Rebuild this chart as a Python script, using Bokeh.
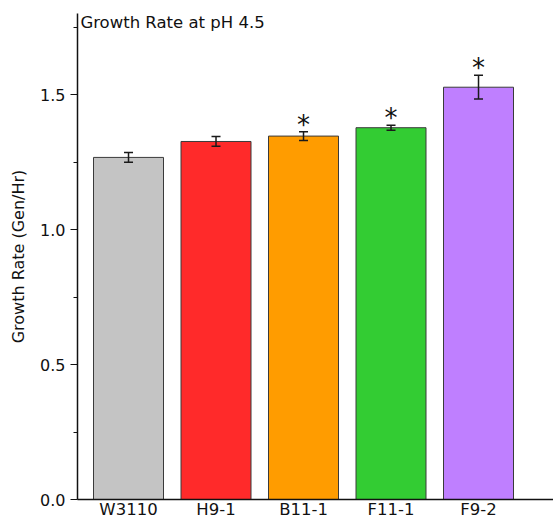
from bokeh.plotting import figure
from bokeh.models import ColumnDataSource, Whisker, TeeHead, FixedTicker, Label, Range1d, CustomJSTickFormatter
from bokeh.core.properties import value
from bokeh.embed import file_html
from bokeh.resources import INLINE

strains = ["W3110", "H9-1", "B11-1", "F11-1", "F9-2"]
growth_rate = [1.267, 1.326, 1.346, 1.377, 1.527]
std_err = [0.018, 0.018, 0.016, 0.009, 0.044]
significant = [False, False, True, True, True]
colors = ["#c4c4c4", "#ff2a2a", "#ff9c00", "#33cc33", "#bf7fff"]
y_ticks = [0.0, 0.5, 1.0, 1.5]
y_minor_ticks = [0.25, 0.75, 1.25, 1.75]
title_text = "Growth Rate at pH 4.5"

xs = list(range(1, len(strains) + 1))
upper = [g + e for g, e in zip(growth_rate, std_err)]
lower = [g - e for g, e in zip(growth_rate, std_err)]

src = ColumnDataSource(dict(x=xs, top=growth_rate, upper=upper, lower=lower, color=colors))
star_src = ColumnDataSource(dict(
    x=[x for x, s in zip(xs, significant) if s],
    y=[u for u, s in zip(upper, significant) if s],
    t=["*" for s in significant if s],
))

FONT = "DejaVu Sans"
BLACK = "#111111"

p = figure(width=553, height=521, output_backend="svg", toolbar_location=None,
           x_range=Range1d(0.417, 5.857), y_range=Range1d(0, 1.8),
           min_border_left=77, min_border_top=13, min_border_right=0, min_border_bottom=0)
p.outline_line_color = None
p.grid.grid_line_color = None
p.background_fill_color = "white"

p.vbar(x="x", top="top", width=0.8, bottom=0, source=src, fill_color="color",
       line_color="#3a3a3a", line_width=1)

w = Whisker(base="x", upper="upper", lower="lower", source=src, level="overlay",
            line_color="#1a1a1a", line_width=1.5,
            upper_head=TeeHead(size=9, line_color="#1a1a1a", line_width=1.5),
            lower_head=TeeHead(size=9, line_color="#1a1a1a", line_width=1.5))
p.add_layout(w)

p.text(x="x", y="y", text="t", source=star_src, text_align="center",
       text_baseline="alphabetic", y_offset=-7, text_font=value(FONT),
       text_font_size="26px", text_color=BLACK)

# y axis
p.yaxis.ticker = FixedTicker(ticks=y_ticks, minor_ticks=y_minor_ticks)
p.yaxis.formatter = CustomJSTickFormatter(code="return tick.toFixed(1);")
p.yaxis.axis_label = "Growth Rate (Gen/Hr)"
p.yaxis.axis_label_text_font = FONT
p.yaxis.axis_label_text_font_style = "normal"
p.yaxis.axis_label_text_font_size = "16px"
p.yaxis.axis_label_text_color = BLACK
p.yaxis.major_label_text_font = FONT
p.yaxis.major_label_text_font_size = "16px"
p.yaxis.major_label_text_color = BLACK
p.yaxis.major_tick_out = 7
p.yaxis.major_tick_in = 0
p.yaxis.minor_tick_out = 4
p.yaxis.minor_tick_in = 0
p.yaxis.axis_line_width = 1.5
p.yaxis.axis_line_color = BLACK
p.yaxis.major_tick_line_color = BLACK
p.yaxis.minor_tick_line_color = BLACK
p.yaxis.major_tick_line_width = 1.2
p.yaxis.axis_label_standoff = 9
p.yaxis.major_label_standoff = 5

# x axis
p.xaxis.ticker = FixedTicker(ticks=xs, minor_ticks=[])
p.xaxis.major_label_overrides = {x: s for x, s in zip(xs, strains)}
p.xaxis.major_label_text_font = FONT
p.xaxis.major_label_text_font_size = "16.5px"
p.xaxis.major_label_text_color = BLACK
p.xaxis.major_tick_line_color = None
p.xaxis.minor_tick_line_color = None
p.xaxis.major_tick_out = 0
p.xaxis.major_tick_in = 0
p.xaxis.major_label_standoff = 0
p.xaxis.axis_line_width = 1.5
p.xaxis.axis_line_color = BLACK

p.add_layout(Label(x=0.45, y=1.8, text=title_text, text_baseline="top",
                   text_font=FONT, text_font_size="16.5px", text_color=BLACK, y_offset=1))

open("out.html", "w").write(file_html(p, INLINE))
